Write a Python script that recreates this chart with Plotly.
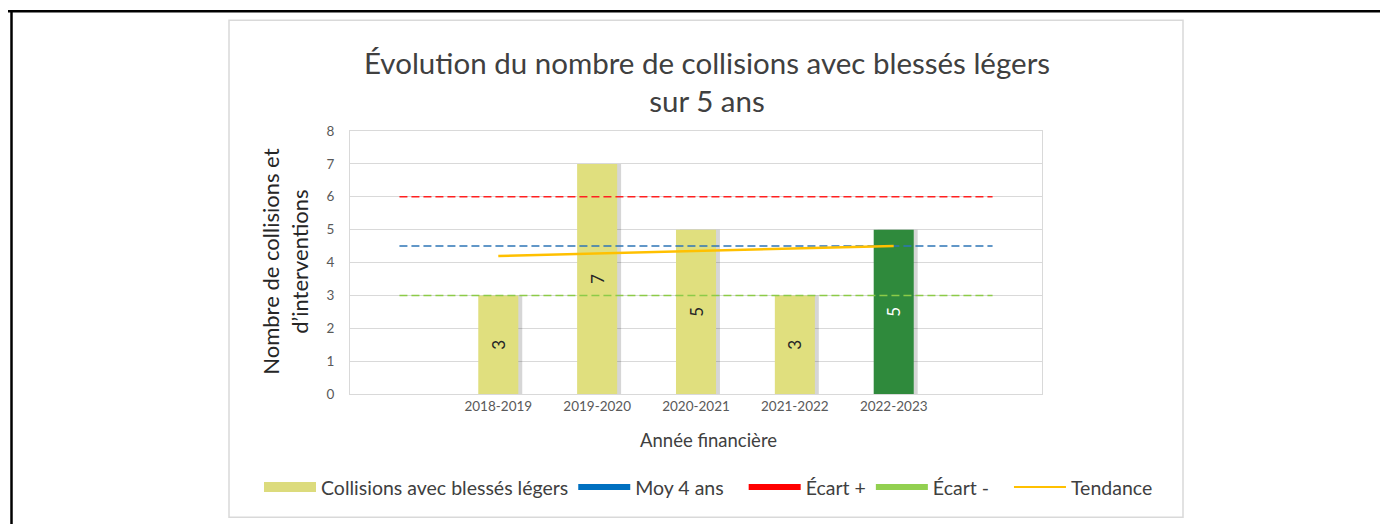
import plotly.graph_objects as go

# --- data ---
years = ["2018-2019", "2019-2020", "2020-2021", "2021-2022", "2022-2023"]
collisions = [3, 7, 5, 3, 5]
bar_colors = ["#E0DF7E", "#E0DF7E", "#E0DF7E", "#E0DF7E", "#2F8A3C"]
text_colors = ["#262626", "#262626", "#262626", "#262626", "#FFFFFF"]
trend = [4.2, 4.28, 4.35, 4.43, 4.5]
moy_4_ans = 4.5
ecart_plus = 6
ecart_moins = 3
y_ticks = [0, 1, 2, 3, 4, 5, 6, 7, 8]

# page body has an 8px margin, so the figure sits at (8, 8) in the window
OFF = 8
W, H = 1388 - OFF, 524 - OFF
PL, PR, PT, PB = 350, 1042, 131, 394.5  # plot area, window pixels
FONT = "Lato"
NB = "\u00a0"  # used to pad legend entries to Excel's spacing


def px(x):
    return (x - PL) / (PR - PL)


def py(y):
    return (PB - y) / (PB - PT)


# bar slots 1..5 with an empty slot on each side (Excel-style 7 categories)
xpos = [i + 1 for i in range(len(years))]
line_x = [0, len(years) + 1]

fig = go.Figure()

# soft shadow behind the bars
fig.add_trace(go.Bar(
    x=xpos, y=collisions, width=0.405, offset=-0.2025 + 0.04,
    marker=dict(color="rgba(0,0,0,0.16)", line=dict(width=0)),
    showlegend=False, hoverinfo="skip",
))
fig.add_trace(go.Bar(
    x=xpos, y=collisions, width=0.405,
    marker=dict(color=bar_colors, line=dict(width=0)),
    text=[str(v) for v in collisions],
    textposition="inside", insidetextanchor="middle", textangle=-90,
    textfont=dict(family=FONT, size=17, color=text_colors),
    showlegend=False, name="Collisions avec blessés légers",
))

dash = "8px,4px"
for val, col in [(ecart_plus, "#FF2020"), (moy_4_ans, "#2E75B6"), (ecart_moins, "#8CCB48")]:
    fig.add_trace(go.Scatter(
        x=line_x, y=[val, val], mode="lines",
        line=dict(color=col, width=1.5, dash=dash),
        showlegend=False, hoverinfo="skip",
    ))

fig.add_trace(go.Scatter(
    x=xpos, y=trend, mode="lines",
    line=dict(color="#FFC000", width=2.5),
    showlegend=False, name="Tendance",
))

# legend-only entries (Excel shows thick solid swatches)
legend_items = [
    ("Collisions avec blessés légers", "#DCDB7C", 10, 0),
    ("Moy 4 ans", "#0070C0", 6, 3),
    ("Écart +", "#FF0000", 6, 0),
    ("Écart -", "#92D050", 6, 3),
    ("Tendance", "#FFC000", 2, 0),
]
for name, col, w, pad in legend_items:
    fig.add_trace(go.Scatter(
        x=[None], y=[None], mode="lines", name=name + NB * pad,
        line=dict(color=col, width=w),
    ))

shapes = [
    # outer black frame (top and left edges)
    dict(type="line", xref="paper", yref="paper", x0=px(0), x1=px(1400), y0=py(11), y1=py(11),
         line=dict(color="black", width=2.5)),
    dict(type="line", xref="paper", yref="paper", x0=px(11.5), x1=px(11.5), y0=py(11), y1=py(530),
         line=dict(color="black", width=2.5)),
    # chart area border
    dict(type="rect", xref="paper", yref="paper", x0=px(229), x1=px(1183), y0=py(20), y1=py(518),
         line=dict(color="#D9D9D9", width=1.5), layer="below"),
]

annotations = [
    dict(text="Évolution du nombre de collisions avec blessés légers<br>sur 5 ans",
         x=px(707), y=py(81), xref="paper", yref="paper", showarrow=False,
         xanchor="center", yanchor="middle",
         font=dict(family=FONT, size=29.5, color="#404040")),
    dict(text="Nombre de collisions et<br>d’interventions", textangle=-90,
         x=px(285), y=py(262), xref="paper", yref="paper", showarrow=False,
         xanchor="center", yanchor="middle",
         font=dict(family=FONT, size=22, color="#262626")),
    dict(text="Année financière",
         x=px(708), y=py(441), xref="paper", yref="paper", showarrow=False,
         xanchor="center", yanchor="middle",
         font=dict(family=FONT, size=18.5, color="#404040")),
]

fig.update_layout(
    width=W, height=H,
    margin=dict(l=PL - OFF, r=1388 - PR, t=PT - OFF, b=524 - PB, pad=0),
    paper_bgcolor="white", plot_bgcolor="white",
    barmode="overlay",
    font=dict(family=FONT, color="#595959"),
    shapes=shapes,
    annotations=annotations,
    legend=dict(
        orientation="h", x=px(259), y=py(488), xanchor="left", yanchor="middle",
        font=dict(family=FONT, size=19.5, color="#404040"),
        itemwidth=52, bgcolor="rgba(0,0,0,0)",
    ),
    xaxis=dict(
        range=[-0.5, len(years) + 1.5], tickmode="array", tickvals=xpos, ticktext=years,
        showgrid=False, zeroline=False, showline=True, linecolor="#D9D9D9", mirror=True,
        ticks="", tickfont=dict(family=FONT, size=13.5, color="#595959"), fixedrange=True,
    ),
    yaxis=dict(
        range=[0, 8], tickmode="array", tickvals=y_ticks,
        showgrid=True, gridcolor="#D9D9D9", gridwidth=1.3, zeroline=False,
        showline=True, linecolor="#D9D9D9", mirror=True,
        ticks="outside", ticklen=12, tickcolor="rgba(0,0,0,0)",
        tickfont=dict(family=FONT, size=13.5, color="#595959"), fixedrange=True,
    ),
)

fig.write_html("out.html")
